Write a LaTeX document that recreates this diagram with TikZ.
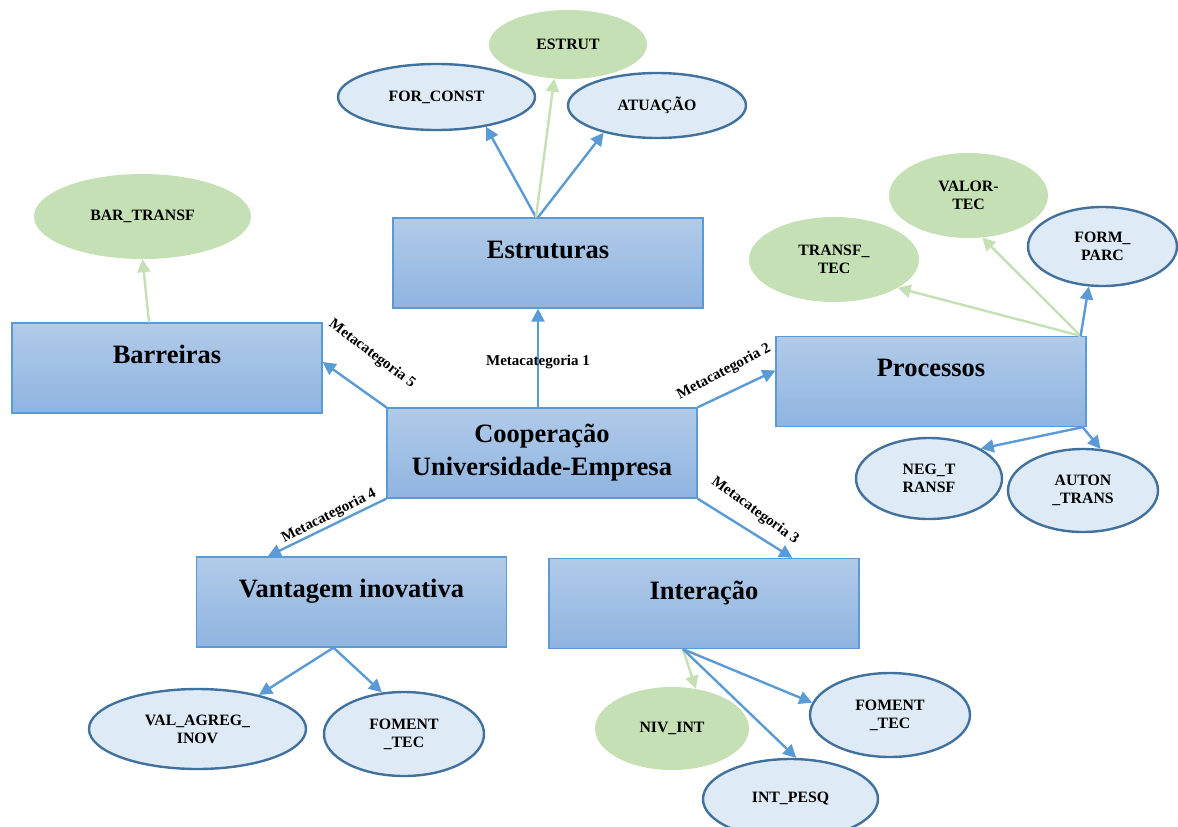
\documentclass[tikz,border=0pt]{standalone}
\usepackage{fontspec}
\setmainfont{Liberation Serif}
\usetikzlibrary{shapes.geometric,arrows.meta,calc}

\definecolor{boxtop}{HTML}{B1CBE9}
\definecolor{boxbot}{HTML}{8FB4E0}
\definecolor{boxline}{HTML}{5B9BD5}
\definecolor{ellfill}{HTML}{DEEBF7}
\definecolor{ellline}{HTML}{41719C}
\definecolor{leaf}{HTML}{C5E0B4}
\definecolor{bluearrow}{HTML}{5B9BD5}

\tikzset{
  catbox/.style={rectangle, draw=boxline, line width=1.3pt,
    top color=boxtop, bottom color=boxbot,
    minimum width=310pt, minimum height=90pt, inner sep=0pt,
    align=center, font=\fontsize{26.5}{33}\selectfont\bfseries},
  codeell/.style={ellipse, draw=ellline, line width=2.4pt, fill=ellfill,
    inner sep=0pt, align=center, font=\fontsize{15.8}{18}\selectfont\bfseries},
  themeell/.style={ellipse, fill=leaf, inner sep=0pt, align=center,
    font=\fontsize{15.8}{18}\selectfont\bfseries},
  metalabel/.style={font=\fontsize{15}{17}\selectfont\bfseries, inner sep=0pt},
  bluelink/.style={draw=bluearrow, line width=2.4pt,
    -{Triangle[length=13pt,width=13pt]}},
  greenlink/.style={draw=leaf, line width=2.4pt,
    -{Triangle[length=13pt,width=13pt]}},
}

\begin{document}
\begin{tikzpicture}[x=1pt,y=-1pt]
\useasboundingbox (0,0) rectangle (1178,827);

% category boxes (title set in the upper part of each box)
\node[catbox] (estr) at (548,263)   {Estruturas\\[-6pt]~};
\node[catbox] (barr) at (167,368)   {Barreiras\\[-6pt]~};
\node[catbox] (proc) at (931,381.5) {Processos\\[-6pt]~};
\node[catbox] (coop) at (542,453)   {Cooperação\\Universidade-Empresa};
\node[catbox] (vant) at (351.5,602) {Vantagem inovativa\\[-6pt]~};
\node[catbox] (inte) at (704,603.5) {Interação\\[-6pt]~};

% codes and themes
\node[codeell, minimum width=197pt, minimum height=66pt] (forc) at (436.5,97) {FOR\_CONST};
\node[codeell, minimum width=178pt, minimum height=65pt] (atua) at (657,105.5) {ATUAÇÃO};
\node[themeell, minimum width=158pt, minimum height=69pt] (estt) at (568,44.5) {ESTRUT};
\node[themeell, minimum width=217pt, minimum height=85pt] (bart) at (142.5,216.5) {BAR\_TRANSF};
\node[themeell, minimum width=170pt, minimum height=85pt] (trft) at (834,259.5) {TRANSF\_\\TEC};
\node[themeell, minimum width=159pt, minimum height=85pt] (valt) at (968.5,195.5) {VALOR-\\TEC};
\node[codeell, minimum width=149pt, minimum height=79pt] (fpar) at (1102.5,246.5) {FORM\_\\PARC};
\node[codeell, minimum width=146pt, minimum height=81pt] (negt) at (929,478.5) {NEG\_T\\RANSF};
\node[codeell, minimum width=150pt, minimum height=83pt] (autt) at (1083,490.5) {AUTON\\\_TRANS};
\node[codeell, minimum width=217pt, minimum height=80pt] (vagr) at (197.5,729) {VAL\_AGREG\_\\INOV};
\node[codeell, minimum width=160pt, minimum height=84pt] (fomv) at (404,734) {FOMENT\\\_TEC};
\node[themeell, minimum width=154pt, minimum height=83pt] (nivi) at (672,728.5) {NIV\_INT};
\node[codeell, minimum width=160pt, minimum height=84pt] (fomi) at (890,715) {FOMENT\\\_TEC};
\node[codeell, minimum width=175pt, minimum height=80pt] (ipes) at (790.5,799) {INT\_PESQ};

% connector origins on the box borders
\coordinate (estrtop) at ($(estr.north)+(-12,0)$);
\coordinate (barrtop) at ($(barr.north)+(-18,0)$);
\coordinate (proctop) at ($(proc.north east)+(-6,0)$);
\coordinate (procbot) at ($(proc.south east)+(-4,0)$);
\coordinate (vantbot) at ($(vant.south)+(-18,0)$);
\coordinate (intebot) at ($(inte.south)+(-21,0)$);
\coordinate (cooptop) at ($(coop.north)+(-4,0)$);

% metacategories
\draw[bluelink] (cooptop) -- (cooptop |- estr.south);
\draw[bluelink] (coop.north west) -- ($(barr.east)+(0,-6)$);
\draw[bluelink] (coop.north east) -- ($(proc.west)+(0,-11)$);
\draw[bluelink] (coop.south west) -- ($(vant.north west)+(72,0)$);
\draw[bluelink] (coop.south east) -- ($(inte.north west)+(244,0)$);

\node[metalabel] (m1) at (538,362) {Metacategoria 1};
\node[metalabel, rotate=28] (m2) at (724,372) {Metacategoria 2};
\node[metalabel, rotate=-36] (m3) at (755,511) {Metacategoria 3};
\node[metalabel, rotate=27] (m4) at (329,516) {Metacategoria 4};
\node[metalabel, rotate=-37] (m5) at (372,354) {Metacategoria 5};

% Estruturas
\draw[bluelink] (estrtop) -- (forc.-31);
\draw[greenlink] (estrtop) -- (estt.-112);
\draw[bluelink] ($(estrtop)+(2,0)$) -- (atua.-153);

% Barreiras
\draw[greenlink] (barrtop) -- (bart.-90);

% Processos
\draw[greenlink] (proctop) -- (trft.-24);
\draw[greenlink] (proctop) -- (valt.-72);
\draw[bluelink] (proctop) -- (fpar.-109);
\draw[bluelink] (procbot) -- (negt.30);
\draw[bluelink] (procbot) -- (autt.67);

% Vantagem inovativa
\draw[bluelink] (vantbot) -- (vagr.29);
\draw[bluelink] (vantbot) -- (fomv.118);

% Interação
\draw[greenlink] (intebot) -- (nivi.59);
\draw[bluelink] (intebot) -- (fomi.171);
\draw[bluelink] (intebot) -- (ipes.82);
\end{tikzpicture}
\end{document}
